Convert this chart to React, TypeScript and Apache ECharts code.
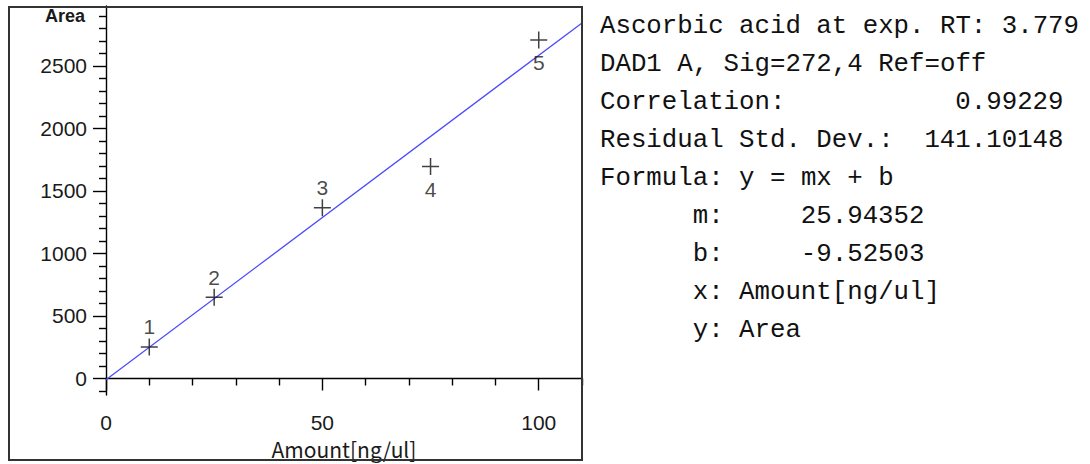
import React, { useEffect, useRef } from "react";
import * as echarts from "echarts";

const amounts = [10, 25, 50, 75, 100];
const areas = [252, 650, 1366, 1696, 2708];
const levels = ["1", "2", "3", "4", "5"];
const labelBelow = [false, false, false, true, true];

const slope = 25.94352;
const intercept = -9.52503;
const fitRange = [0, 110];

const xMajorTicks = [0, 50, 100];
const xMinorTicks = [10, 20, 30, 40, 60, 70, 80, 90, 110];
const yMajorTicks = [0, 500, 1000, 1500, 2000, 2500];
const yMinorTicks = [
  -100, 100, 200, 300, 400, 600, 700, 800, 900, 1100, 1200, 1300, 1400, 1600,
  1700, 1800, 1900, 2100, 2200, 2300, 2400, 2600, 2700, 2800, 2900,
];
const yTitleValue = 2900;

const compoundName = "Ascorbic acid";
const expRT = "3.779";
const signalText = "DAD1 A, Sig=272,4 Ref=off";
const correlation = "0.99229";
const residualStdDev = "141.10148";
const slopeText = "25.94352";
const interceptText = "-9.52503";
const xName = "Amount[ng/ul]";
const yName = "Area";

const MONO = '"Liberation Mono", "DejaVu Sans Mono", monospace';
const SANS = '"Liberation Sans", Arial, sans-serif';

export default function App() {
  const ref = useRef<HTMLDivElement>(null);

  useEffect(() => {
    if (!ref.current) return;
    const chart = echarts.init(ref.current, undefined, { renderer: "svg" });

    const fs = 25.75;
    const cw = fs * 0.6;
    const x0 = 600;
    const lineY = (i: number) => 26 + i * 38;
    const txt = (text: string, x: number, i: number, align = "left") => ({
      type: "text",
      x,
      y: lineY(i),
      style: {
        text,
        fontSize: fs,
        fontFamily: MONO,
        fill: "#111",
        textAlign: align,
        align,
        textVerticalAlign: "middle",
        verticalAlign: "middle",
      },
    });

    const infoElements = [
      txt(`${compoundName} at exp. RT: ${expRT}`, x0, 0),
      txt(signalText, x0, 1),
      txt("Correlation:", x0, 2),
      txt(correlation, x0 + 30 * cw, 2, "right"),
      txt("Residual Std. Dev.:", x0, 3),
      txt(residualStdDev, x0 + 30 * cw, 3, "right"),
      txt("Formula: y = mx + b", x0, 4),
      txt("m:", x0 + 6 * cw, 5),
      txt(slopeText, x0 + 13 * cw, 5),
      txt("b:", x0 + 6 * cw, 6),
      txt(interceptText, x0 + 13 * cw, 6),
      txt(`x: ${xName}`, x0 + 6 * cw, 7),
      txt(`y: ${yName}`, x0 + 6 * cw, 8),
    ];

    const yMin = -133;
    const yMax = 2980;
    const axisLine = { show: true, lineStyle: { color: "#000", width: 1.4 } };

    chart.setOption({
      animation: false,
      backgroundColor: "#fff",
      grid: { left: 106, right: 508, top: 6, bottom: 64, containLabel: false },
      xAxis: [
        {
          type: "value",
          min: fitRange[0],
          max: fitRange[1],
          position: "bottom",
          axisLine,
          axisTick: {
            show: true,
            customValues: xMajorTicks,
            length: 12,
            lineStyle: { color: "#000", width: 1.4 },
          },
          axisLabel: {
            customValues: xMajorTicks,
            fontSize: 21,
            fontFamily: SANS,
            color: "#1a1a1a",
            margin: 17,
          },
          splitLine: { show: false },
          name: xName,
          nameLocation: "middle",
          nameGap: 40,
          nameTextStyle: {
            fontSize: 21,
            fontFamily: '"Noto Sans CJK JP", "Noto Sans", sans-serif',
            color: "#1a1a1a",
          },
        },
        {
          type: "value",
          min: fitRange[0],
          max: fitRange[1],
          position: "bottom",
          axisLine: { show: false },
          axisTick: {
            show: true,
            customValues: xMinorTicks,
            length: 7,
            lineStyle: { color: "#000", width: 1.4 },
          },
          axisLabel: { show: false },
          splitLine: { show: false },
        },
      ],
      yAxis: [
        {
          type: "value",
          min: yMin,
          max: yMax,
          position: "left",
          axisLine,
          axisTick: {
            show: true,
            customValues: yMajorTicks,
            length: 13,
            lineStyle: { color: "#000", width: 1.4 },
          },
          axisLabel: {
            customValues: [...yMajorTicks, yTitleValue],
            fontSize: 21,
            fontFamily: SANS,
            color: "#1a1a1a",
            margin: 19,
            formatter: (v: number) => (v === yTitleValue ? `{t|${yName}}` : String(v)),
            rich: {
              t: {
                fontSize: 18,
                fontWeight: "bold",
                fontFamily: SANS,
                color: "#1a1a1a",
                padding: [0, 2, 0, 0],
              },
            },
          },
          splitLine: { show: false },
        },
        {
          type: "value",
          min: yMin,
          max: yMax,
          position: "left",
          axisLine: { show: false },
          axisTick: {
            show: true,
            customValues: yMinorTicks,
            length: 7,
            lineStyle: { color: "#000", width: 1.4 },
          },
          axisLabel: { show: false },
          splitLine: { show: false },
        },
      ],
      series: [
        {
          type: "line",
          xAxisIndex: 0,
          yAxisIndex: 0,
          data: fitRange.map((x) => [x, slope * x + intercept]),
          symbol: "none",
          lineStyle: { color: "#4b4bff", width: 1.3 },
          silent: true,
          z: 2,
        },
        {
          type: "scatter",
          xAxisIndex: 0,
          yAxisIndex: 0,
          symbol: "path://M0,7.75H17V9.25H0Z M7.75,0H9.25V17H7.75Z",
          symbolSize: 17,
          itemStyle: { color: "#111" },
          z: 3,
          data: amounts.map((x, i) => ({
            value: [x, areas[i]],
            label: {
              show: true,
              position: labelBelow[i] ? "bottom" : "top",
              distance: labelBelow[i] ? 4 : 1,
            },
          })),
          label: {
            show: true,
            formatter: (p: any) => levels[p.dataIndex],
            fontSize: 21,
            fontFamily: SANS,
            color: "#1a1a1a",
          },
        },
      ],
      graphic: [
        {
          type: "rect",
          shape: { x: 9, y: 7, width: 573, height: 453 },
          style: { fill: "none", stroke: "#333", lineWidth: 2 },
          z: 10,
          silent: true,
        },
        ...infoElements,
      ],
    });

    return () => chart.dispose();
  }, []);

  return (
    <div
      ref={ref}
      style={{ position: "absolute", left: 0, top: 0, width: 1090, height: 464, background: "#fff" }}
    />
  );
}
